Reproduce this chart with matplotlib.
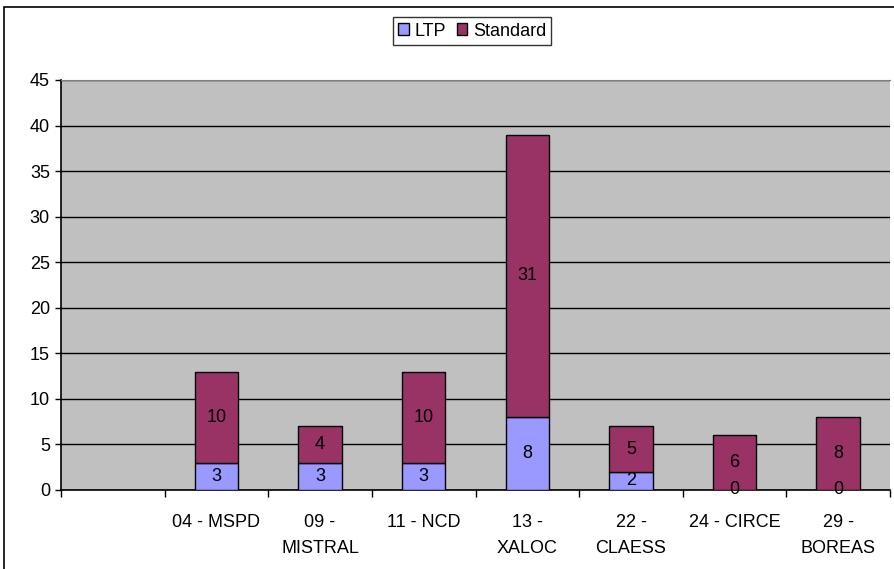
import matplotlib.pyplot as plt
from matplotlib.patches import Rectangle
import numpy as np

plt.rcParams['font.family'] = ['Liberation Sans', 'DejaVu Sans']

categories = ["", "04 - MSPD", "09 -\nMISTRAL", "11 - NCD", "13 -\nXALOC",
              "22 -\nCLAESS", "24 - CIRCE", "29 -\nBOREAS"]
ltp = [0, 3, 3, 3, 8, 2, 0, 0]
standard = [0, 10, 4, 10, 31, 5, 6, 8]
show = [False, True, True, True, True, True, True, True]

fs = 13

fig = plt.figure(figsize=(8.94, 5.69), dpi=100)
# outer chart frame
fig.patches.append(Rectangle((4 / 894, -0.01), 1.0, 1 - 7 / 569 + 0.01,
                             transform=fig.transFigure, fill=False,
                             edgecolor="black", linewidth=1.2))

ax = fig.add_axes([61 / 894, 79 / 569, 829 / 894, 410 / 569])
ax.set_facecolor("#C0C0C0")

x = np.arange(len(categories))
ltp_s = [v if s else 0 for v, s in zip(ltp, show)]
std_s = [v if s else 0 for v, s in zip(standard, show)]
w = 0.42
b1 = ax.bar(x[1:], ltp_s[1:], w, color="#9999FF", edgecolor="black",
            linewidth=1, label="LTP", zorder=3)
b2 = ax.bar(x[1:], std_s[1:], w, bottom=ltp_s[1:], color="#993366",
            edgecolor="black", linewidth=1, label="Standard", zorder=3)

# value labels
for i in range(1, len(categories)):
    ax.text(x[i], ltp[i] / 2, str(ltp[i]), ha="center", va="center",
            fontsize=fs, zorder=4)
    ax.text(x[i], ltp[i] + standard[i] / 2, str(standard[i]), ha="center",
            va="center", fontsize=fs, zorder=4)

ax.set_xlim(-0.5, len(categories) - 0.5)
ax.set_ylim(0, 45)
ax.set_yticks(range(0, 46, 5))
ax.yaxis.grid(True, color="black", linewidth=1, zorder=1)
ax.set_axisbelow(True)

# category boundaries as ticks, labels at centres
ax.set_xticks(np.arange(-0.5, len(categories), 1))
ax.set_xticklabels([])
ax.set_xticks(x, minor=True)
ax.set_xticklabels(categories, minor=True, fontsize=fs, linespacing=1.69)
ax.tick_params(axis="x", which="major", length=5, width=1, direction="out")
ax.tick_params(axis="x", which="minor", length=0, pad=17)
ax.tick_params(axis="y", length=4, width=1, labelsize=fs, pad=4)

ax.spines["right"].set_visible(False)
ax.spines["top"].set_color("#808080")
ax.spines["top"].set_zorder(5)
ax.spines["left"].set_linewidth(1.2)
ax.spines["bottom"].set_linewidth(1.2)

leg = fig.legend(handles=[b1, b2], loc="center", bbox_to_anchor=(472 / 894, 1 - 31 / 569),
                 ncol=2, frameon=True, fancybox=False, edgecolor="black",
                 fontsize=fs, handlelength=0.6, handleheight=0.6,
                 handletextpad=0.3, columnspacing=0.6, borderpad=0.3)
leg.get_frame().set_linewidth(1)

fig.savefig("out.png", dpi=100)
